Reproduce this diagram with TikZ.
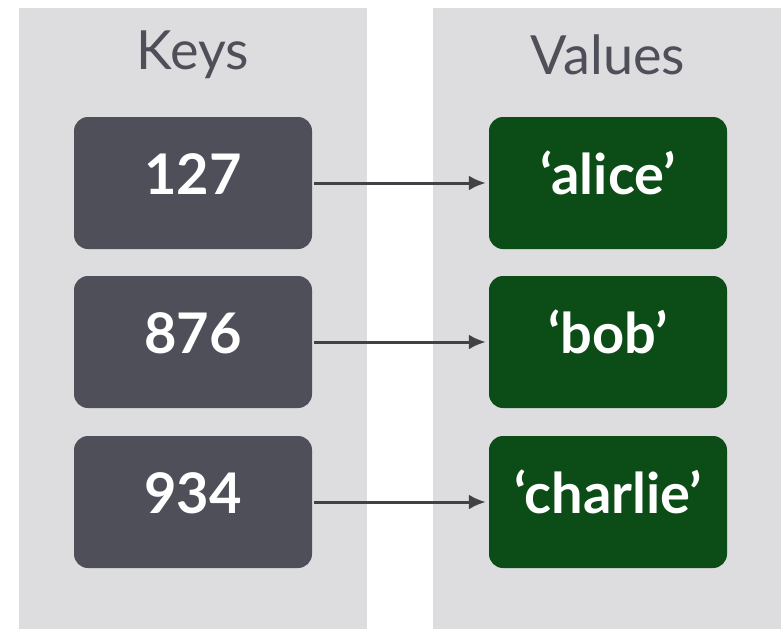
\documentclass[tikz,border=0pt]{standalone}
\usepackage{fontspec}
\setmainfont{Lato}
\usetikzlibrary{shapes,arrows.meta,positioning,calc}
\definecolor{panelgray}{RGB}{221,221,223}
\definecolor{keyslate}{RGB}{78,79,88}
\definecolor{valgreen}{RGB}{12,76,22}
\definecolor{linkgray}{RGB}{66,66,70}

\begin{document}
\begin{tikzpicture}[x=1pt, y=-1pt,
    keybox/.style={rectangle, rounded corners=14pt, minimum width=238pt, minimum height=132pt,
        fill=keyslate, text=white, text height=42pt, text depth=20pt, font=\fontsize{56}{60}\selectfont\bfseries},
    valbox/.style={keybox, fill=valgreen},
    heading/.style={text=keyslate, font=\fontsize{54}{60}\selectfont},
    link/.style={draw=linkgray, line width=3pt, -{Latex[length=17pt,width=15pt]}, shorten <=2pt, shorten >=3pt}]
    \useasboundingbox (0,0) rectangle (784,629);
    \fill[white] (0,0) rectangle (784,629);
    \fill[panelgray] (19,8) rectangle (367,629);
    \fill[panelgray] (433,8) rectangle (781,629);
    \node[heading] (keys) at (193,55) {Keys};
    \node[heading] (values) at (608,55) {Values};
    \node[keybox] (key1) at (193,183) {127};
    \node[keybox] (key2) at (193,342) {876};
    \node[keybox] (key3) at (193,502) {934};
    \node[valbox] (val1) at (608,183) {‘alice’};
    \node[valbox] (val2) at (608,342) {‘bob’};
    \node[valbox] (val3) at (608,502) {‘charlie’};
    \draw[link] (key1) -- (val1);
    \draw[link] (key2) -- (val2);
    \draw[link] (key3) -- (val3);
\end{tikzpicture}
\end{document}
